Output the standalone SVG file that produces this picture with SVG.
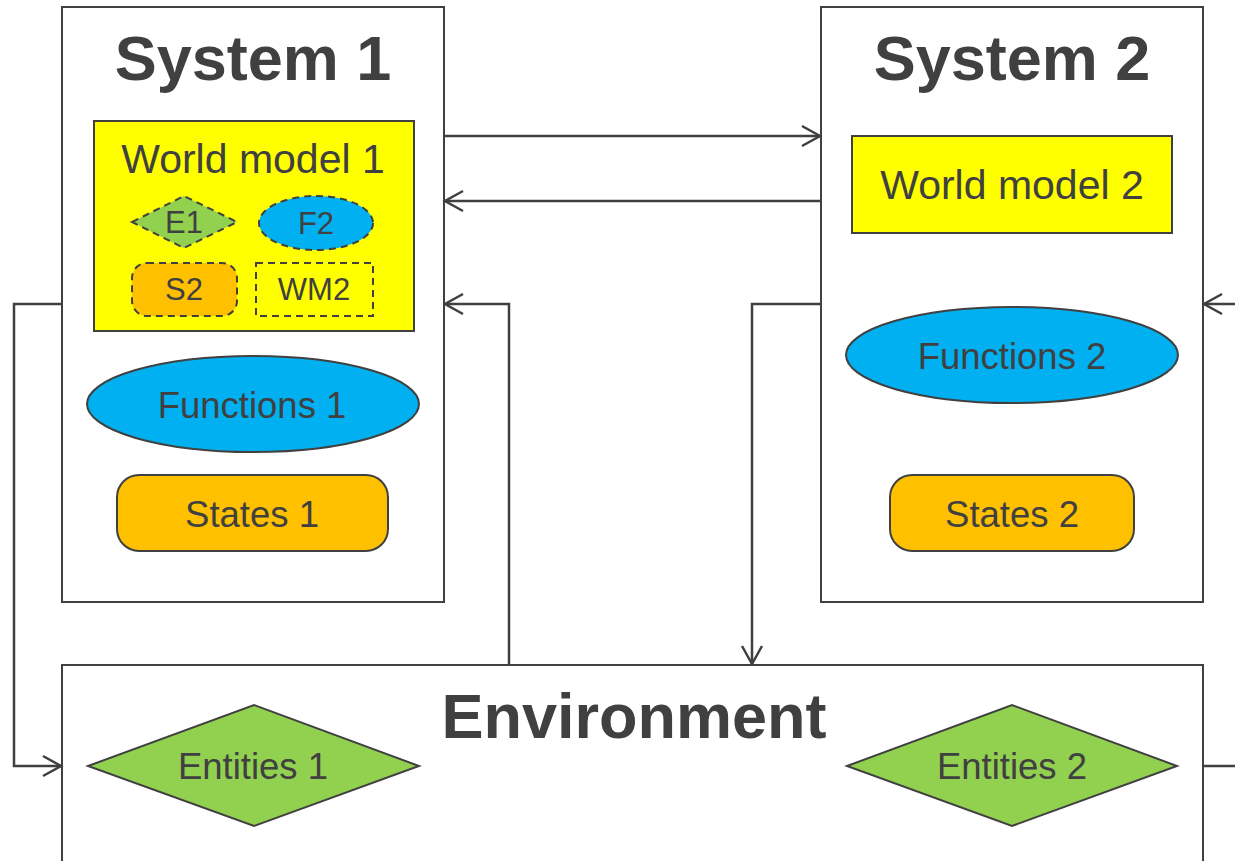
<svg xmlns="http://www.w3.org/2000/svg" width="1235" height="861" viewBox="0 0 1235 861">
<defs>
<marker id="arr" markerWidth="22" markerHeight="24" refX="19" refY="12" orient="auto" markerUnits="userSpaceOnUse">
<path d="M1,2 L19,12 L1,22" fill="none" stroke="#404040" stroke-width="2.5"/>
</marker>
<style>
text{font-family:"Liberation Sans",Arial,sans-serif;fill:#404040;text-anchor:middle}
.box{fill:#fff;stroke:#404040;stroke-width:2}
.title{font-size:63px;font-weight:bold}
.wm{fill:#ffff00;stroke:#404040;stroke-width:2}
.fn{fill:#00b0f0;stroke:#404040;stroke-width:2}
.st{fill:#ffc000;stroke:#404040;stroke-width:2}
.en{fill:#92d050;stroke:#404040;stroke-width:2}
.dash{stroke-dasharray:7,5}
.wml{font-size:41px}
.lbl{font-size:36.5px}
.sm{font-size:31px}
.conn{fill:none;stroke:#404040;stroke-width:2.5}
</style>
</defs>
<rect width="1235" height="861" fill="#fff"/>
<g id="environment">
<rect class="box" x="62" y="665" width="1141" height="210"/>
<text class="title" x="634" y="738">Environment</text>
</g>
<g id="system1">
<rect class="box" x="62" y="7" width="382" height="595"/>
<text class="title" x="253" y="80">System 1</text>
</g>
<g id="system2">
<rect class="box" x="821" y="7" width="382" height="595"/>
<text class="title" x="1012" y="80">System 2</text>
</g>
<g id="worldmodel1">
<rect class="wm" x="94" y="121" width="320" height="210"/>
<text class="wml" x="253" y="173">World model 1</text>
</g>
<g id="e1">
<polygon class="en dash" points="132,222 184,196 237,222 184,248"/>
<text class="sm" x="184" y="233">E1</text>
</g>
<g id="f2">
<ellipse class="fn dash" cx="316" cy="223" rx="57" ry="27"/>
<text class="sm" x="316" y="234">F2</text>
</g>
<g id="s2">
<rect class="st dash" x="132" y="263" width="105" height="53" rx="15"/>
<text class="sm" x="184" y="300">S2</text>
</g>
<g id="wm2">
<rect class="wm dash" x="256" y="263" width="117" height="53"/>
<text class="sm" x="314" y="300">WM2</text>
</g>
<g id="functions1">
<ellipse class="fn" cx="253" cy="404" rx="166" ry="48"/>
<text class="lbl" x="252" y="418">Functions 1</text>
</g>
<g id="states1">
<rect class="st" x="117" y="475" width="271" height="76" rx="22"/>
<text class="lbl" x="252" y="527">States 1</text>
</g>
<g id="worldmodel2">
<rect class="wm" x="852" y="136" width="320" height="97"/>
<text class="wml" x="1012" y="199">World model 2</text>
</g>
<g id="functions2">
<ellipse class="fn" cx="1012" cy="355" rx="166" ry="48"/>
<text class="lbl" x="1012" y="369">Functions 2</text>
</g>
<g id="states2">
<rect class="st" x="890" y="475" width="244" height="76" rx="22"/>
<text class="lbl" x="1012" y="527">States 2</text>
</g>
<g id="entities1">
<polygon class="en" points="88,766 254,705 419,766 254,826"/>
<text class="lbl" x="253" y="779">Entities 1</text>
</g>
<g id="entities2">
<polygon class="en" points="847,766 1012,705 1177,766 1012,826"/>
<text class="lbl" x="1012" y="779">Entities 2</text>
</g>
<g id="connectors">
<path class="conn" d="M444,136 H820" marker-end="url(#arr)"/>
<path class="conn" d="M821,201 H445" marker-end="url(#arr)"/>
<path class="conn" d="M62,304 H14 V766 H61" marker-end="url(#arr)"/>
<path class="conn" d="M509,665 V304 H445" marker-end="url(#arr)"/>
<path class="conn" d="M821,304 H752 V664" marker-end="url(#arr)"/>
<path class="conn" d="M1236,304 H1204" marker-end="url(#arr)"/>
<path class="conn" d="M1203,766 H1236"/>
</g>
</svg>
